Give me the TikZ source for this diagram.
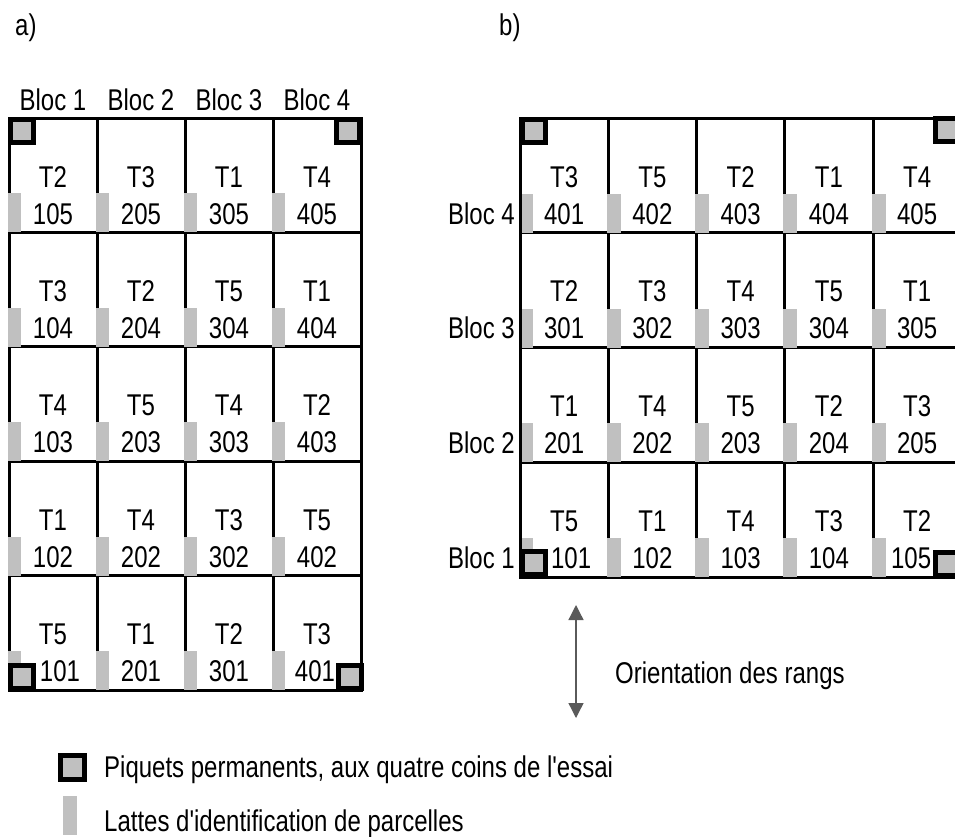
\documentclass[tikz,border=0pt]{standalone}
\usepackage{fontspec}
\defaultfontfeatures{}
\setmainfont{Liberation Sans}[FakeStretch=0.8, Ligatures=TeXOff]
\usetikzlibrary{arrows.meta}
\definecolor{lathgray}{RGB}{192,192,192}
\definecolor{arrowgray}{RGB}{90,90,90}
\begin{document}
\begin{tikzpicture}[x=1pt,y=-1pt,
  txt/.style={font=\fontsize{30}{36}\selectfont, inner sep=0pt},
  gridline/.style={draw=black, line width=3pt},
  picket/.style={draw=black, line width=5pt, fill=lathgray, minimum size=23pt, inner sep=0pt},
  legpicket/.style={picket, minimum size=24pt},
  lath/.style={fill=lathgray},
  orient/.style={draw=arrowgray, line width=1.3pt, {Triangle[width=15pt,length=15pt]}-{Triangle[width=15pt,length=15pt]}}]
\useasboundingbox (0,0) rectangle (955,836);
\clip (0,0) rectangle (955,836);

% ---------- labels a) b)
\node[txt,anchor=base west] (la) at (15,35) {a)};
\node[txt,anchor=base west] (lb) at (499,35) {b)};

% ---------- left grid
\draw[gridline] (9,118) rectangle (361,690);
\foreach \x in {97,185,273} \draw[gridline] (\x,118) -- (\x,690);
\foreach \y in {232.4,346.8,461.2,575.6} \draw[gridline] (9,\y) -- (361,\y);
\foreach \k in {1,2,3,4}
  \node[txt,anchor=base] (blocTop\k) at ({53+88*(\k-1)},110) {Bloc \k};
\foreach \r/\c/\t/\n/\d in {
  0/1/T2/105/0, 0/2/T3/205/0, 0/3/T1/305/0, 0/4/T4/405/0,
  1/1/T3/104/0, 1/2/T2/204/0, 1/3/T5/304/0, 1/4/T1/404/0,
  2/1/T4/103/0, 2/2/T5/203/0, 2/3/T4/303/0, 2/4/T2/403/0,
  3/1/T1/102/0, 3/2/T4/202/0, 3/3/T3/302/0, 3/4/T5/402/0,
  4/1/T5/101/7, 4/2/T1/201/0, 4/3/T2/301/0, 4/4/T3/401/-2}{
  \pgfmathsetmacro\xc{9+88*(\c-1)}
  \pgfmathsetmacro\yt{118+114.4*\r}
  \fill[lath] (\xc-1.5,\yt+114.4-39) rectangle (\xc+12,\yt+114.4);
  \node[txt,anchor=base] (aT\r\c) at (\xc+44,\yt+69) {\t};
  \node[txt,anchor=base] (aN\r\c) at (\xc+44+\d,\yt+106) {\n};
}
\node[picket] (pa1) at (21.5,130.5) {};
\node[picket] (pa2) at (348,131) {};
\node[picket] (pa3) at (22,677) {};
\node[picket] (pa4) at (349.5,676.5) {};

% ---------- right grid
\draw[gridline] (520,118) rectangle (961.25,577);
\foreach \x in {608.25,696.5,784.75,873} \draw[gridline] (\x,118) -- (\x,577);
\foreach \y in {232.75,347.5,462.25} \draw[gridline] (520,\y) -- (961.25,\y);
\foreach \r/\c/\t/\n/\d in {
  0/1/T3/401/0, 0/2/T5/402/0, 0/3/T2/403/0, 0/4/T1/404/0, 0/5/T4/405/0,
  1/1/T2/301/0, 1/2/T3/302/0, 1/3/T4/303/0, 1/4/T5/304/0, 1/5/T1/305/0,
  2/1/T1/201/0, 2/2/T4/202/0, 2/3/T5/203/0, 2/4/T2/204/0, 2/5/T3/205/0,
  3/1/T5/101/7, 3/2/T1/102/0, 3/3/T4/103/0, 3/4/T3/104/0, 3/5/T2/105/-6}{
  \pgfmathsetmacro\xc{520+88.25*(\c-1)}
  \pgfmathsetmacro\yt{118+114.75*\r}
  \fill[lath] (\xc-1.5,\yt+114.75-39) rectangle (\xc+12.5,\yt+114.75);
  \node[txt,anchor=base] (bT\r\c) at (\xc+44.1,\yt+69) {\t};
  \node[txt,anchor=base] (bN\r\c) at (\xc+44.1+\d,\yt+106) {\n};
}
\draw[gridline] (520,118) -- (520,577);
\foreach \r in {0,1,2,3}{
  \pgfmathtruncatemacro\b{4-\r}
  \node[txt,anchor=base east] (blocSide\b) at (515,{118+114.75*\r+106}) {Bloc \b};
}
\node[picket] (pb1) at (533.5,131) {};
\node[picket] (pb2) at (947,130) {};
\node[picket] (pb3) at (533.5,562.5) {};
\node[picket] (pb4) at (947,563.5) {};

% ---------- orientation arrow
\coordinate (arrT) at (576,605);
\coordinate (arrB) at (576,718);
\draw[orient] (arrT) -- (arrB);
\node[txt,anchor=base west] (orientLbl) at (615,683) {Orientation des rangs};

% ---------- legend
\node[legpicket] (legP) at (72.5,767.5) {};
\node[txt,anchor=base west] (legPtxt) at (104,777) {Piquets permanents, aux quatre coins de l'essai};
\fill[lath] (63,796) rectangle (77,835);
\node[txt,anchor=base west] (legLtxt) at (104,831) {Lattes d'identification de parcelles};
\end{tikzpicture}
\end{document}
